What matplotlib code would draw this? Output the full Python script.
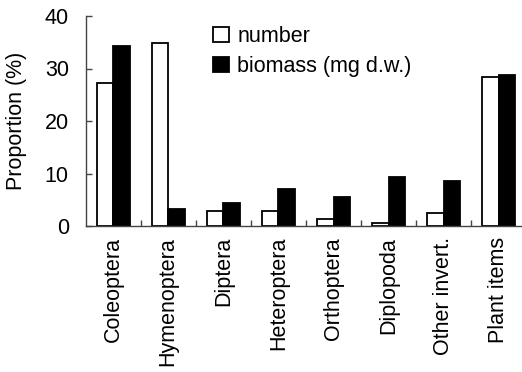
import matplotlib
matplotlib.use("Agg")
import matplotlib.pyplot as plt
import numpy as np
from matplotlib.patches import Patch

plt.rcParams['font.family'] = ['Liberation Sans', 'DejaVu Sans']

categories = ['Coleoptera', 'Hymenoptera', 'Diptera', 'Heteroptera',
              'Orthoptera', 'Diplopoda', 'Other invert.', 'Plant items']
number = [27.2, 34.9, 2.8, 2.8, 1.3, 0.5, 2.4, 28.3]
biomass = [34.2, 3.2, 4.3, 7.0, 5.5, 9.4, 8.6, 28.8]
yticks = [0, 10, 20, 30, 40]

W, H = 522, 372
fs = 15.5
fig = plt.figure(figsize=(W / 100, H / 100), dpi=100)
ax = fig.add_axes([85.5 / W, (H - 226) / H, 441 / W, 210 / H])

x = np.arange(len(categories))
w = 0.3
ax.bar(x - w / 2, number, w, color='white', edgecolor='black', linewidth=1.3)
ax.bar(x + w / 2, biomass, w, color='black', edgecolor='black', linewidth=1.3)

ax.set_xlim(-0.5, len(categories) - 0.5)
ax.set_ylim(0, 40)
ax.set_yticks(yticks)
ax.set_xticks(x)
ax.set_xticklabels(categories, rotation=90, fontsize=fs)
ax.set_xticks(np.arange(0.5, len(categories) - 1, 1), minor=True)
ax.tick_params(axis='x', which='major', length=0, pad=8)
ax.tick_params(axis='x', which='minor', direction='in', length=4.5, width=1, color='#444444')
ax.tick_params(axis='y', direction='in', length=4.5, width=1, color='#444444', labelsize=fs, pad=12)

for s in ['top', 'right']:
    ax.spines[s].set_visible(False)
for s in ['left', 'bottom']:
    ax.spines[s].set_color('#444444')
    ax.spines[s].set_linewidth(1)

ax.set_ylabel('Proportion (%)', fontsize=fs)
ax.yaxis.set_label_coords((27 - 85.5) / 441, 0.5)

handles = [Patch(facecolor='white', edgecolor='black', linewidth=1.3),
           Patch(facecolor='black', edgecolor='black', linewidth=1.3)]
fig.legend(handles, ['number', 'biomass (mg d.w.)'], loc='upper left',
           bbox_to_anchor=(213 / W, 1 - 26 / H), frameon=False, fontsize=fs,
           handlelength=0.72, handleheight=0.72, handletextpad=0.4,
           labelspacing=0.42, borderpad=0, borderaxespad=0)

fig.savefig('out.png', dpi=100)
